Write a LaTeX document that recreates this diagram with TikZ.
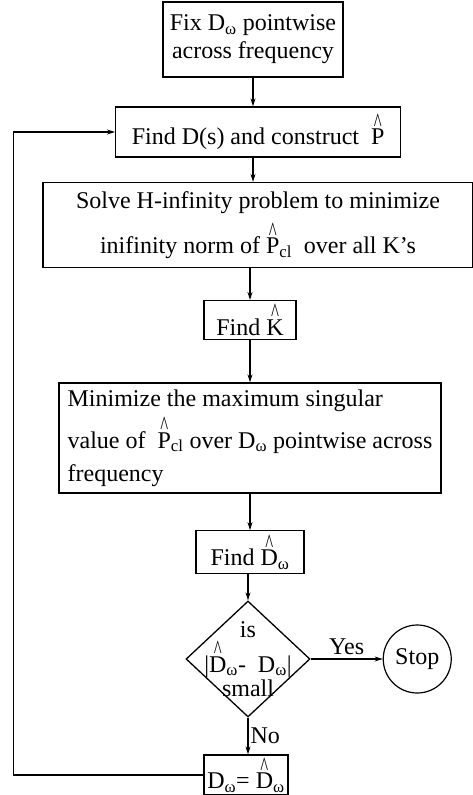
\documentclass[tikz,border=0pt]{standalone}
\usepackage{fontspec}
\setmainfont{Liberation Serif}
\usepackage{graphicx}
\usepackage{tikz}
\usetikzlibrary{arrows.meta,positioning,shapes.geometric}

% caret set high above a letter, as in the scanned figure
\newcommand{\hatted}[1]{\leavevmode\setbox0\hbox{#1}\rlap{\hbox to\wd0{\hss\raisebox{0.55em}{\scalebox{0.7}[1.1]{\textasciicircum}}\hss}}\box0}
\newcommand{\Dw}{D\textsubscript{ω}}

\begin{document}
\begin{tikzpicture}[
    x=1pt, y=-1pt,
    font=\fontsize{24}{28}\selectfont,
    blk/.style={
        rectangle, draw=black, line width=1.3pt, fill=white,
        inner sep=4pt, align=center
    },
    test/.style={
        diamond, draw=black, line width=1.3pt, inner sep=0pt,
        minimum width=124pt, minimum height=116pt
    },
    endc/.style={circle, draw=black, line width=1.2pt, minimum size=68pt, inner sep=0pt},
    arr/.style={-{Stealth[length=8pt,width=5pt]}, line width=1.1pt, draw=black}
]
    \useasboundingbox (0,0) rectangle (473,795);

    % Start: fixed scaling
    \node [blk, minimum width=180pt, minimum height=75pt] (tfix) at (253,39.5) {
        Fix \Dw{} pointwise\\across frequency
    };

    % Fit D(s)
    \node [blk, minimum width=285pt, minimum height=50pt, anchor=west] (tds) at (115,132) {
        Find D(s) and construct \ \hatted{P}
    };

    % H-infinity step
    \node [blk, minimum width=430pt, minimum height=85pt] (tsolve) at (258,225) {
        Solve H-infinity problem to minimize\\[9pt]
        inifinity norm of \hatted{P}\textsubscript{cl} \ over all K's
    };

    \node [blk, minimum width=92pt, minimum height=38pt] (tk) at (250,320) {Find \hatted{K}};

    % mu step
    \node [blk, minimum width=382pt, minimum height=110pt, align=left] (tmin) at (250,438) {
        Minimize the maximum singular\\[5pt]
        value of \ \hatted{P}\textsubscript{cl} over \Dw{} pointwise across\\[5pt]
        frequency
    };

    \node [blk, minimum width=108pt, minimum height=41pt] (tdw) at (250,552) {Find \hatted{D}\textsubscript{ω}};

    % Test and exit
    \node [test, label={[align=center]center:{is\\[3pt]|\hatted{D}\textsubscript{ω}-\ \ \Dw|\\[-4pt]small}}] (ttest) at (248,659) {};
    \node [endc, right=72pt of ttest] (tstop) {Stop};

    \node [blk, minimum width=84pt, minimum height=40pt, inner sep=2pt] (tset) at (246,775) {\Dw= \hatted{D}\textsubscript{ω}};

    % Main chain
    \draw [arr] (tfix.south) -- (tfix.south |- tds.north);
    \draw [arr] (tfix.south |- tds.south) -- (tfix.south |- tsolve.north);
    \draw [arr] (tk.north |- tsolve.south) -- (tk.north);
    \draw [arr] (tk.south) -- (tmin.north);
    \draw [arr] (tmin.south) -- (tdw.north);
    \draw [arr] (ttest.north |- tdw.south) -- (ttest.north);
    \draw [arr] (ttest.east) -- node[above] {Yes} (tstop.west);
    \draw [arr] (ttest.south) -- node[right, inner sep=2pt] {No} (ttest.south |- tset.north);

    % Loop back
    \draw [arr] (tset.west) -- ++(-190,0) |- (tds.west);

\end{tikzpicture}
\end{document}
